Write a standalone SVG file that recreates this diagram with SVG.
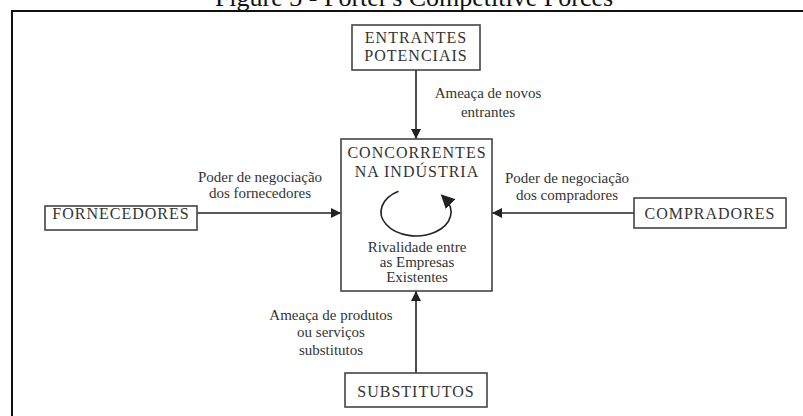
<svg xmlns="http://www.w3.org/2000/svg" width="803" height="416" viewBox="0 0 803 416">
<style>
.box{fill:#fff;stroke:#444;stroke-width:1.6}
.cap{font-family:"Liberation Serif",serif;font-size:16px;fill:#333;text-anchor:middle;letter-spacing:1px}
.lbl{font-family:"Liberation Serif",serif;font-size:15px;fill:#333;text-anchor:middle}
.con{stroke:#222;stroke-width:1.6;fill:none}
</style>
<defs>
<marker id="ah" viewBox="0 0 10 10" refX="10" refY="5" markerWidth="10" markerHeight="10" markerUnits="userSpaceOnUse" orient="auto">
<path d="M0,0 L10,5 L0,10 Z" fill="#222"/>
</marker>
<marker id="ah2" viewBox="0 0 10 10" refX="6" refY="5" markerWidth="14" markerHeight="14" markerUnits="userSpaceOnUse" orient="auto">
<path d="M0,0 L10,5 L0,10 Z" fill="#222"/>
</marker>
</defs>
<rect width="803" height="416" fill="#fff"/>
<text x="414" y="6" font-family="Liberation Serif, serif" font-size="26" fill="#111" text-anchor="middle">Figure 3 - Porter's Competitive Forces</text>
<path d="M12,416 V11 H803" fill="none" stroke="#111" stroke-width="2"/>
<g id="connectors">
<line class="con" x1="416" y1="70" x2="416" y2="139" marker-end="url(#ah)"/>
<line class="con" x1="197" y1="213" x2="341" y2="213" marker-end="url(#ah)"/>
<line class="con" x1="634" y1="213" x2="492" y2="213" marker-end="url(#ah)"/>
<line class="con" x1="416" y1="373" x2="416" y2="291" marker-end="url(#ah)"/>
<text class="lbl" x="488" y="98">Ameaça de novos</text>
<text class="lbl" x="488" y="117">entrantes</text>
<text class="lbl" x="260" y="182">Poder de negociação</text>
<text class="lbl" x="260" y="198">dos fornecedores</text>
<text class="lbl" x="567" y="183">Poder de negociação</text>
<text class="lbl" x="567" y="200">dos compradores</text>
<text class="lbl" x="331" y="320">Ameaça de produtos</text>
<text class="lbl" x="331" y="337">ou serviços</text>
<text class="lbl" x="331" y="355">substitutos</text>
</g>
<g id="entrantes">
<rect class="box" x="352" y="25" width="128" height="45"/>
<text class="cap" x="416" y="43">ENTRANTES</text>
<text class="cap" x="416" y="61">POTENCIAIS</text>
</g>
<g id="concorrentes">
<rect class="box" x="341" y="139" width="151" height="152"/>
<text class="cap" x="417" y="158">CONCORRENTES</text>
<text class="cap" x="417" y="177">NA INDÚSTRIA</text>
<path class="con" d="M398.5,191.2 A35,24 0 1 0 444.7,198.2" marker-end="url(#ah2)"/>
<text class="lbl" x="417" y="252">Rivalidade entre</text>
<text class="lbl" x="417" y="267">as Empresas</text>
<text class="lbl" x="417" y="282">Existentes</text>
</g>
<g id="fornecedores">
<rect class="box" x="45" y="206" width="152" height="24"/>
<text class="cap" x="121" y="219">FORNECEDORES</text>
</g>
<g id="compradores">
<rect class="box" x="634" y="198" width="152" height="30"/>
<text class="cap" x="710" y="219">COMPRADORES</text>
</g>
<g id="substitutos">
<rect class="box" x="345" y="373" width="142" height="34"/>
<text class="cap" x="416" y="397">SUBSTITUTOS</text>
</g>
</svg>
